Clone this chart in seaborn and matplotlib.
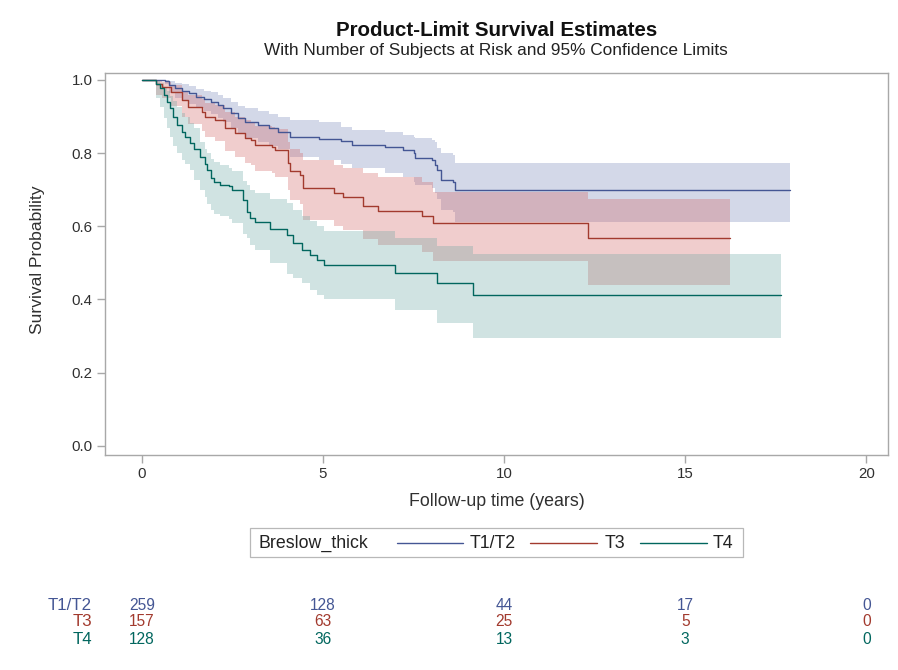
import numpy as np
import pandas as pd
import matplotlib
matplotlib.use("Agg")
import matplotlib.pyplot as plt
import matplotlib.transforms as mtransforms
from matplotlib.lines import Line2D
from matplotlib.patches import Rectangle
import seaborn as sns

# ---------------- data ----------------
groups = ["T1/T2", "T3", "T4"]
line_colors = ["#445694", "#A23A2E", "#01665E"]
band_colors = ["#6F7EB3", "#D05B5B", "#66A5A0"]

# T1/T2
t12_time = [0, 0.65, 0.75, 0.9, 1.1, 1.3, 1.5, 1.7, 1.9, 2.1, 2.25, 2.45, 2.65, 2.85,
            3.2, 3.5, 3.75, 4.1, 4.9, 5.5, 5.8, 6.7, 7.2, 7.5, 7.55, 8.0, 8.1, 8.15,
            8.25, 8.6, 8.65]
t12_surv = [1.0, 0.997, 0.986, 0.977, 0.970, 0.964, 0.954, 0.948, 0.941, 0.932, 0.923,
            0.909, 0.896, 0.886, 0.877, 0.868, 0.859, 0.843, 0.838, 0.832, 0.822, 0.818,
            0.809, 0.800, 0.787, 0.781, 0.768, 0.754, 0.727, 0.722, 0.700]
t12_lower = [1.0, 0.99, 0.965, 0.952, 0.942, 0.935, 0.922, 0.915, 0.906, 0.895, 0.884,
             0.868, 0.852, 0.840, 0.830, 0.820, 0.810, 0.790, 0.780, 0.770, 0.760, 0.745,
             0.735, 0.722, 0.712, 0.706, 0.690, 0.675, 0.645, 0.640, 0.612]
t12_upper = [1.0, 1.0, 0.997, 0.992, 0.988, 0.983, 0.976, 0.971, 0.966, 0.958, 0.950,
             0.940, 0.930, 0.922, 0.914, 0.906, 0.898, 0.891, 0.884, 0.872, 0.863, 0.859,
             0.850, 0.845, 0.840, 0.836, 0.830, 0.815, 0.800, 0.795, 0.773]
t12_end = 17.9

# T3
t3_time = [0, 0.4, 0.55, 0.8, 1.1, 1.28, 1.65, 1.75, 2.02, 2.3, 2.57, 2.85, 3.0, 3.12,
           3.58, 3.67, 4.04, 4.09, 4.37, 4.45, 5.29, 5.55, 6.1, 6.53, 7.72, 8.04, 12.33]
t3_surv = [1.0, 0.990, 0.982, 0.968, 0.945, 0.927, 0.913, 0.900, 0.891, 0.868, 0.854,
           0.840, 0.836, 0.822, 0.818, 0.809, 0.772, 0.750, 0.740, 0.704, 0.690, 0.680,
           0.655, 0.642, 0.627, 0.608, 0.567]
t3_lower = [1.0, 0.960, 0.950, 0.930, 0.900, 0.880, 0.860, 0.845, 0.832, 0.805, 0.790,
            0.772, 0.768, 0.752, 0.745, 0.735, 0.700, 0.672, 0.660, 0.617, 0.600, 0.590,
            0.565, 0.550, 0.530, 0.504, 0.440]
t3_upper = [1.0, 0.998, 0.994, 0.986, 0.970, 0.958, 0.948, 0.938, 0.932, 0.912, 0.900,
            0.890, 0.886, 0.875, 0.872, 0.865, 0.830, 0.812, 0.800, 0.781, 0.768, 0.760,
            0.745, 0.735, 0.720, 0.695, 0.674]
t3_end = 16.25

# T4
t4_time = [0, 0.4, 0.5, 0.6, 0.68, 0.77, 0.87, 0.96, 1.1, 1.2, 1.33, 1.45, 1.6, 1.75,
           1.8, 1.9, 2.0, 2.15, 2.4, 2.5, 2.79, 2.89, 2.98, 3.12, 3.54, 4.0, 4.17, 4.41,
           4.64, 4.83, 5.03, 6.99, 8.14, 9.15]
t4_surv = [1.0, 0.990, 0.977, 0.959, 0.941, 0.922, 0.900, 0.877, 0.859, 0.845, 0.827,
           0.810, 0.790, 0.770, 0.754, 0.731, 0.722, 0.713, 0.709, 0.700, 0.672, 0.640,
           0.622, 0.613, 0.592, 0.577, 0.554, 0.536, 0.522, 0.508, 0.495, 0.472, 0.445,
           0.413]
t4_lower = [1.0, 0.950, 0.925, 0.895, 0.870, 0.845, 0.820, 0.800, 0.781, 0.770, 0.754,
            0.727, 0.700, 0.680, 0.660, 0.645, 0.635, 0.627, 0.620, 0.609, 0.580, 0.568,
            0.550, 0.536, 0.500, 0.470, 0.458, 0.445, 0.426, 0.412, 0.400, 0.372, 0.335,
            0.294]
t4_upper = [1.0, 0.998, 0.992, 0.982, 0.970, 0.957, 0.942, 0.925, 0.910, 0.898, 0.883,
            0.868, 0.830, 0.810, 0.800, 0.785, 0.775, 0.768, 0.759, 0.750, 0.725, 0.712,
            0.700, 0.690, 0.675, 0.665, 0.645, 0.627, 0.615, 0.600, 0.586, 0.567, 0.545,
            0.525]
t4_end = 17.65

risk_times = [0, 5, 10, 15, 20]
risk_t12 = [259, 128, 44, 17, 0]
risk_t3 = [157, 63, 25, 5, 0]
risk_t4 = [128, 36, 13, 3, 0]

x_ticks = [0, 5, 10, 15, 20]
y_ticks = [0.0, 0.2, 0.4, 0.6, 0.8, 1.0]

title = "Product-Limit Survival Estimates"
subtitle = "With Number of Subjects at Risk and 95% Confidence Limits"
x_label = "Follow-up time (years)"
y_label = "Survival Probability"
legend_title = "Breslow_thick"

# ---------------- build tables ----------------
series = {
    "T1/T2": (t12_time, t12_surv, t12_lower, t12_upper, t12_end),
    "T3": (t3_time, t3_surv, t3_lower, t3_upper, t3_end),
    "T4": (t4_time, t4_surv, t4_lower, t4_upper, t4_end),
}
rows = []
for g in groups:
    tt, ss, lo, hi, end = series[g]
    tt = list(tt) + [end]
    ss = list(ss) + [ss[-1]]
    lo = list(lo) + [lo[-1]]
    hi = list(hi) + [hi[-1]]
    for a, b, c, d in zip(tt, ss, lo, hi):
        rows.append({"group": g, "time": a, "surv": b, "lower": c, "upper": d})
df = pd.DataFrame(rows)

# ---------------- style ----------------
sns.set_theme(style="ticks")
plt.rcParams["font.family"] = ["Liberation Sans", "DejaVu Sans"]
text_color = "#303030"
frame_color = "#a8a8a8"

W, H = 898, 670
fig = plt.figure(figsize=(W / 100, H / 100), dpi=100)
ax_left, ax_right, ax_top, ax_bot = 105, 888, 73, 455
ax = fig.add_axes([ax_left / W, 1 - ax_bot / H, (ax_right - ax_left) / W, (ax_bot - ax_top) / H])

# confidence bands
for g, bc in zip(groups, band_colors):
    sub = df[df["group"] == g]
    ax.fill_between(sub["time"], sub["lower"], sub["upper"], step="post",
                    color=bc, alpha=0.3, lw=0, zorder=1)

# survival curves
sns.lineplot(data=df, x="time", y="surv", hue="group", hue_order=groups,
             palette=dict(zip(groups, line_colors)), estimator=None,
             drawstyle="steps-post", legend=False, lw=1.0, ax=ax, zorder=3)

ax.set_xlim(-1.02, 20.6)
ax.set_ylim(-0.025, 1.019)
ax.set_xticks(x_ticks)
ax.set_xticklabels([str(v) for v in x_ticks])
ax.set_yticks(y_ticks)
ax.set_yticklabels([f"{v:.1f}" for v in y_ticks])
for s in ax.spines.values():
    s.set_color(frame_color)
    s.set_linewidth(1.0)
ax.tick_params(axis="both", direction="out", length=6, width=1.0, color=frame_color,
               labelsize=10.8, labelcolor=text_color, pad=3)

ax.set_xlabel(x_label, fontsize=12.8, color=text_color)
ax.set_ylabel(y_label, fontsize=12.6, color=text_color)
ax.xaxis.set_label_coords(0.5, (ax_bot - 502) / (ax_bot - ax_top))
ax.xaxis.label.set_va("center")
ax.yaxis.set_label_coords((38 - ax_left) / (ax_right - ax_left), 0.51)
ax.yaxis.label.set_va("center")

# titles
fig.text(496.5 / W, 1 - 30 / H, title, ha="center", va="center",
         fontsize=14.8, fontweight="bold", color="#111111")
fig.text(496 / W, 1 - 50 / H, subtitle, ha="center", va="center",
         fontsize=12.4, color="#222222")

# legend (inline title, boxed)
fig.add_artist(Rectangle((250 / W, 1 - 557 / H), 493 / W, 29 / H, transform=fig.transFigure,
                         facecolor="white", edgecolor="#b8b8b8", lw=0.9))
ly = 1 - 543 / H
fig.text(258 / W, ly, legend_title, ha="left", va="center", fontsize=12.8, color="#222222")
leg_items = [("T1/T2", 397, 463, 470), ("T3", 530, 597, 605), ("T4", 640, 707, 713)]
for (lab, x0, x1, xt), c in zip(leg_items, line_colors):
    fig.add_artist(Line2D([x0 / W, x1 / W], [ly, ly], transform=fig.transFigure,
                          color=c, lw=1.0))
    fig.text(xt / W, ly, lab, ha="left", va="center", fontsize=12.8, color="#222222")

# at-risk table
trans = mtransforms.blended_transform_factory(ax.transData, fig.transFigure)
risk_rows = [risk_t12, risk_t3, risk_t4]
row_y = [606, 622, 639]
for g, c, vals, yy in zip(groups, line_colors, risk_rows, row_y):
    fig.text(92 / W, 1 - yy / H, g, ha="right", va="center", fontsize=12.2, color=c)
    for t, v in zip(risk_times, vals):
        ax.text(t, 1 - yy / H, str(v), transform=trans, ha="center", va="center",
                fontsize=11.2, color=c, clip_on=False)

fig.savefig("out.png", dpi=100)
